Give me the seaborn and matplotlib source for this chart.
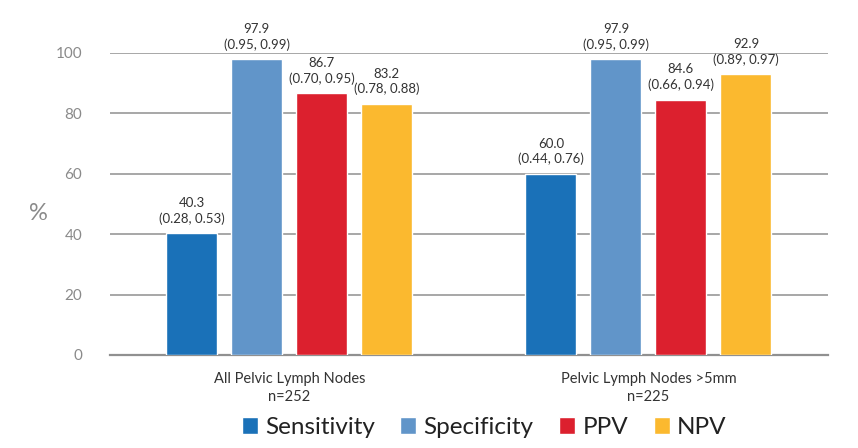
import matplotlib
matplotlib.use("Agg")
import matplotlib.pyplot as plt
import seaborn as sns
import pandas as pd

groups = ["All Pelvic Lymph Nodes\nn=252", "Pelvic Lymph Nodes >5mm\nn=225"]
metrics = ["Sensitivity", "Specificity", "PPV", "NPV"]
sensitivity = [40.3, 60.0]
specificity = [97.9, 97.9]
ppv = [86.7, 84.6]
npv = [83.2, 92.9]
ci_sensitivity = ["(0.28, 0.53)", "(0.44, 0.76)"]
ci_specificity = ["(0.95, 0.99)", "(0.95, 0.99)"]
ci_ppv = ["(0.70, 0.95)", "(0.66, 0.94)"]
ci_npv = ["(0.78, 0.88)", "(0.89, 0.97)"]
colors = ["#1a71b8", "#6195c9", "#dc202e", "#fbb92f"]

values = [sensitivity, specificity, ppv, npv]
cis = [ci_sensitivity, ci_specificity, ci_ppv, ci_npv]
rows = []
for m, vals in zip(metrics, values):
    for g, v in zip(groups, vals):
        rows.append({"group": g, "metric": m, "value": v})
df = pd.DataFrame(rows)

sns.set_style("white")
plt.rcParams["font.family"] = ["Lato", "DejaVu Sans"]

fig = plt.figure(figsize=(8.58, 4.48), dpi=100)
ax = fig.add_axes([0.128, 0.2076, 0.837, 0.6741])

sns.barplot(data=df, x="group", y="value", hue="metric", order=groups,
            hue_order=metrics, palette=colors, width=0.724, gap=0.215,
            saturation=1, ax=ax, legend=True, zorder=3)

ax.set_ylim(0, 100)
ax.set_xlim(-0.5, 1.5)
ax.set_yticks([0, 20, 40, 60, 80, 100])
ax.yaxis.grid(True, color="#a0a0a0", linewidth=1.3, zorder=0)
ax.set_axisbelow(True)
for s in ["top", "right", "left"]:
    ax.spines[s].set_visible(False)
ax.spines["bottom"].set_color("#909090")
ax.spines["bottom"].set_linewidth(1.6)
ax.tick_params(axis="y", length=0, labelsize=11, labelcolor="#8a8a8a", pad=20)
ax.tick_params(axis="x", length=0, labelsize=10.5, labelcolor="#333333", pad=12)
for lbl in ax.get_xticklabels():
    lbl.set_linespacing(1.35)
ax.set_xlabel("")
ax.set_ylabel("%", fontsize=17, color="#8a8a8a", rotation=0, labelpad=30, va="center")
ax.yaxis.set_label_coords(-0.1, 0.47)

for cont, vals, ci in zip(ax.containers, values, cis):
    for bar, v, c in zip(cont, vals, ci):
        x = bar.get_x() + bar.get_width() / 2
        ax.annotate(f"{v:.1f}\n{c}", (x, bar.get_height()), xytext=(0, 6),
                    textcoords="offset points", ha="center", va="bottom",
                    fontsize=9.5, color="#333333", linespacing=1.3,
                    annotation_clip=False)

leg = ax.legend(loc="center", bbox_to_anchor=(0.521, -0.24), ncol=4,
                frameon=False, fontsize=17.5, handlelength=0.66, handleheight=0.66,
                handletextpad=0.3, columnspacing=1.05)
for t in leg.get_texts():
    t.set_color("#222222")

fig.savefig("out.png", dpi=100)
